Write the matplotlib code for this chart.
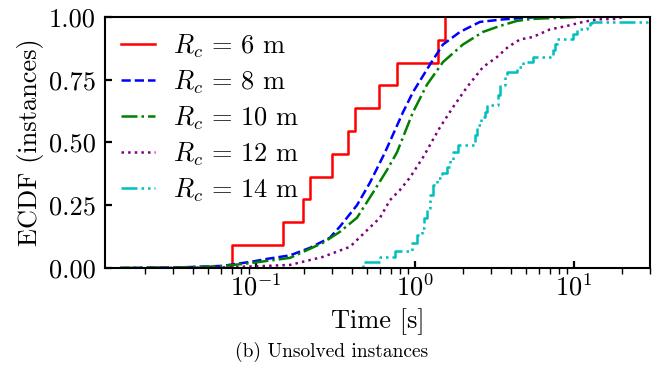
import numpy as np
import matplotlib
matplotlib.use('Agg')
import matplotlib.pyplot as plt
from matplotlib.ticker import FormatStrFormatter

plt.rcParams['font.family'] = 'serif'
plt.rcParams['font.serif'] = ['cmr10', 'DejaVu Serif']
plt.rcParams['mathtext.fontset'] = 'cm'
plt.rcParams['axes.formatter.use_mathtext'] = True

# R_c = 6 m: only 11 unsolved instances, solve times [s]
times_6 = [0.0702, 0.147, 0.1965, 0.2175, 0.299, 0.377, 0.417, 0.591, 0.767, 1.39, 1.538]

# R_c = 8 m: ECDF (time [s], fraction)
t_8 = [0.0139, 0.033, 0.061, 0.094, 0.117, 0.163, 0.2175, 0.29, 0.336, 0.43, 0.519,
       0.60, 0.645, 0.837, 0.967, 1.237, 1.494, 1.911, 2.554, 3.56, 6.09]
f_8 = [0.0, 0.002, 0.008, 0.025, 0.036, 0.05, 0.08, 0.12, 0.165, 0.25, 0.34,
       0.42, 0.46, 0.62, 0.70, 0.81, 0.89, 0.94, 0.98, 0.99, 1.0]

# R_c = 10 m
t_10 = [0.0139, 0.033, 0.061, 0.094, 0.163, 0.2625, 0.336, 0.43, 0.542, 0.664, 0.767,
        0.967, 1.185, 1.494, 1.996, 2.667, 3.413, 4.367, 5.5, 10.9]
f_10 = [0.0, 0.002, 0.007, 0.02, 0.04, 0.10, 0.144, 0.20, 0.30, 0.39, 0.46,
        0.62, 0.73, 0.82, 0.89, 0.94, 0.964, 0.984, 0.992, 1.0]

# R_c = 12 m
t_12 = [0.0214, 0.061, 0.1166, 0.163, 0.2625, 0.388, 0.497, 0.60, 0.693, 0.80, 0.926,
        1.118, 1.43, 1.727, 2.115, 2.667, 3.267, 3.832, 4.56, 5.5, 7.04, 9.0, 11.4,
        13.9, 18.6, 20.3]
f_12 = [0.0, 0.002, 0.008, 0.012, 0.044, 0.084, 0.15, 0.20, 0.27, 0.31, 0.36,
        0.44, 0.56, 0.64, 0.72, 0.80, 0.84, 0.88, 0.91, 0.92, 0.95, 0.964, 0.98,
        0.99, 0.992, 1.0]

# R_c = 14 m: step ECDF (value after each step)
t_14 = [0.0113, 0.468, 0.600, 0.745, 0.96, 1.03, 1.10, 1.14, 1.19, 1.24, 1.30, 1.37,
        1.47, 1.58, 1.66, 1.73, 1.86, 2.38, 2.45, 2.6, 2.75, 2.83, 3.31, 3.41, 3.67,
        3.78, 4.37, 4.76, 5.5, 7.35, 7.57, 7.79, 9.83, 10.4, 12.0, 12.6, 12.9, 40.0]
f_14 = [0.0, 0.024, 0.044, 0.068, 0.10, 0.13, 0.16, 0.20, 0.24, 0.29, 0.33, 0.36,
        0.38, 0.40, 0.43, 0.46, 0.49, 0.53, 0.57, 0.60, 0.62, 0.65, 0.69, 0.73, 0.76,
        0.78, 0.80, 0.82, 0.84, 0.87, 0.89, 0.91, 0.93, 0.95, 0.96, 0.975, 0.98, 1.0]

labels = [r'$R_c \,=\, 6$ m', r'$R_c \,=\, 8$ m', r'$R_c \,=\, 10$ m',
          r'$R_c \,=\, 12$ m', r'$R_c \,=\, 14$ m']

fig = plt.figure(figsize=(6.66, 3.67), dpi=100)
ax = fig.add_axes([0.158, 0.270, 0.818, 0.684])

lw = 1.8
xs6 = np.concatenate([[0.005], np.sort(times_6)])
fs6 = np.concatenate([[0.0], np.arange(1, len(times_6) + 1) / len(times_6)])
ax.plot(xs6, fs6, color='r', lw=lw, drawstyle='steps-post', label=labels[0])
ax.plot(t_8, f_8, color='b', lw=lw, ls='--', label=labels[1])
ax.plot(t_10, f_10, color='g', lw=lw, ls='-.', label=labels[2])
ax.plot(t_12, f_12, color='purple', lw=lw, ls=':', label=labels[3])
ax.plot(t_14, f_14, color='c', lw=lw, drawstyle='steps-post',
        dashes=(6.4, 1.6, 1, 1.6, 1, 1.6), label=labels[4])

ax.set_xscale('log')
ax.set_xlim(0.0112, 30)
ax.set_ylim(0, 1)
ax.set_yticks([0, 0.25, 0.5, 0.75, 1.0])
ax.yaxis.set_major_formatter(FormatStrFormatter('%.2f'))

for s in ax.spines.values():
    s.set_linewidth(1.5)
ax.tick_params(which='major', direction='in', length=5, width=1.6, labelsize=19)
ax.tick_params(axis='y', which='major', pad=7)
ax.tick_params(axis='x', which='major', pad=4)
ax.tick_params(which='minor', direction='out', length=4, width=1.0)

ax.set_xlabel('Time [s]', fontsize=19, labelpad=6)
ax.set_ylabel('ECDF (instances)', fontsize=19, labelpad=3)

ax.legend(loc='upper left', frameon=False, fontsize=19, handlelength=1.3,
          handletextpad=0.65, labelspacing=0.32, borderaxespad=0.3, borderpad=0.3)

fig.text(0.498, 0.04, '(b) Unsolved instances', ha='center', va='center', fontsize=14)

fig.savefig('out.png', dpi=100)
